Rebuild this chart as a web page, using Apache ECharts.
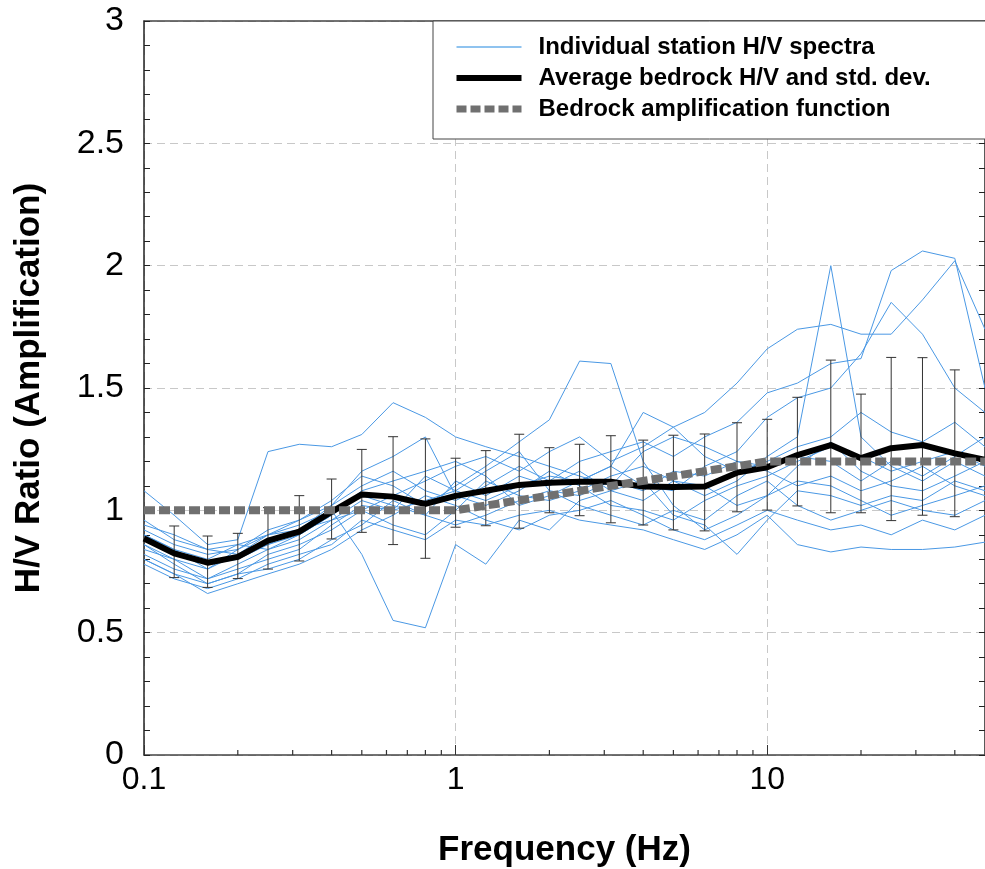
<!DOCTYPE html>
<html><head><meta charset="utf-8">
<script src="https://cdn.jsdelivr.net/npm/echarts@6/dist/echarts.min.js"></script>
<style>html,body{margin:0;padding:0;background:#fff}#c{width:985px;height:869px}</style>
</head><body><div id="c"></div>
<script>
const freqs = [0.1,0.125,0.16,0.2,0.25,0.315,0.4,0.5,0.63,0.8,1,1.25,1.6,2,2.5,3.15,4,5,6.3,8,10,12.5,16,20,25,31.5,40,50];
const avgHV = [0.885,0.824,0.786,0.81,0.876,0.913,0.994,1.065,1.056,1.026,1.059,1.08,1.104,1.113,1.117,1.117,1.097,1.095,1.097,1.154,1.176,1.226,1.267,1.213,1.254,1.267,1.233,1.206];
const stdLow = [null,0.725,0.685,0.721,0.760,0.793,0.883,0.91,0.86,0.804,0.931,0.937,0.927,0.99,0.978,0.949,0.94,0.92,0.916,0.994,1.001,1.018,0.99,0.99,0.958,0.98,0.974,null];
const stdHigh = [null,0.936,0.895,0.906,1.011,1.06,1.128,1.249,1.301,1.292,1.213,1.244,1.311,1.256,1.27,1.305,1.287,1.307,1.312,1.358,1.372,1.462,1.614,1.475,1.625,1.624,1.574,null];
const bedrockFreqs = [0.1, 1, 10, 50];
const bedrockAmp = [1.0, 1.0, 1.2, 1.2];
const station1 = [0.86,0.80,0.76,0.82,0.90,0.96,1.02,1.10,1.16,1.08,1.04,1.10,1.18,1.12,1.20,1.24,1.28,1.22,1.30,1.36,1.48,1.52,1.60,1.62,1.98,2.06,2.03,1.50];
const station2 = [0.90,0.84,0.80,0.86,0.84,0.90,0.98,1.06,1.02,0.98,1.12,1.06,1.14,1.10,1.16,1.08,1.04,1.12,1.06,1.12,1.22,1.30,2.00,1.30,1.18,1.12,1.20,1.14];
const station3 = [0.80,0.74,0.70,0.74,0.82,0.86,0.92,1.00,1.06,1.12,1.18,1.22,1.16,1.24,1.30,1.20,1.26,1.34,1.40,1.52,1.66,1.74,1.76,1.72,1.72,1.86,2.02,1.74];
const station4 = [0.84,0.80,0.72,0.76,0.80,0.84,0.94,1.02,1.00,1.04,1.08,1.04,1.10,1.14,1.12,1.18,1.10,1.08,1.18,1.24,1.38,1.46,1.50,1.64,1.85,1.72,1.50,1.40];
const station5 = [0.78,0.72,0.68,0.72,0.78,0.82,0.86,0.96,0.92,0.88,0.96,0.94,0.98,1.00,0.96,0.94,0.92,0.88,0.84,0.90,0.98,0.86,0.83,0.85,0.84,0.84,0.85,0.87];
const station6 = [0.96,0.88,0.84,0.86,0.90,0.94,1.00,0.82,0.55,0.52,0.86,0.78,0.96,0.92,1.04,1.08,1.12,0.98,0.94,0.82,0.96,1.08,1.06,1.02,1.06,1.04,1.12,1.08];
const station7 = [0.92,0.86,0.82,0.84,0.92,0.96,1.04,1.14,1.10,1.02,1.10,1.18,1.28,1.37,1.61,1.60,1.20,1.02,0.92,0.98,1.06,1.18,1.28,1.16,1.10,1.08,1.14,1.20];
const station8 = [1.08,0.98,0.86,0.88,1.24,1.27,1.26,1.31,1.44,1.38,1.30,1.26,1.22,1.18,1.14,1.10,1.24,1.30,1.26,1.20,1.16,1.10,1.14,1.08,1.12,1.18,1.10,1.06];
const station9 = [0.88,0.82,0.78,0.80,0.86,0.92,1.02,1.16,1.22,1.30,1.06,1.02,1.08,1.16,1.10,1.02,1.00,0.96,1.04,1.10,1.14,1.20,1.26,1.22,1.16,1.20,1.24,1.18];
const station10 = [0.82,0.76,0.72,0.78,0.84,0.88,0.96,1.00,0.94,0.90,1.00,1.12,1.06,1.04,1.08,1.14,1.18,1.12,1.10,1.02,1.06,1.12,1.10,1.04,0.98,1.02,1.06,1.10];
const station11 = [0.94,0.90,0.84,0.82,0.86,0.90,0.98,1.08,1.12,1.16,1.20,1.14,1.02,1.06,1.12,1.18,1.40,1.34,1.22,1.16,1.20,1.26,1.30,1.40,1.32,1.28,1.36,1.26];
const station12 = [0.86,0.78,0.70,0.74,0.76,0.80,0.88,0.94,1.04,0.98,0.94,0.98,1.04,1.08,1.02,0.98,0.94,1.00,0.96,1.06,1.12,1.02,0.96,1.00,1.04,1.00,0.98,1.04];
const station13 = [0.90,0.84,0.76,0.84,0.90,0.92,0.96,1.04,1.00,1.14,1.08,1.16,1.24,1.08,1.06,1.12,1.08,1.16,1.14,1.20,1.18,1.22,1.20,1.12,1.20,1.14,1.22,1.30];
const station14 = [0.80,0.74,0.66,0.70,0.74,0.78,0.84,0.92,0.98,1.06,1.02,0.96,0.92,0.98,1.00,1.04,0.98,0.92,0.88,0.94,1.00,0.96,0.92,0.94,0.90,0.96,0.92,0.98];
const stations = [station1,station2,station3,station4,station5,station6,station7,station8,station9,station10,station11,station12,station13,station14];
const xMinorTicks = [0.2,0.3,0.4,0.5,0.6,0.7,0.8,0.9,2,3,4,5,6,7,8,9,20,30,40];
const xAxisName = 'Frequency (Hz)';
const yAxisName = 'H/V Ratio (Amplification)';
const nameStation = 'Individual station H/V spectra';
const nameAvg = 'Average bedrock H/V and std. dev.';
const nameBed = 'Bedrock amplification function';

const FONT = '"Liberation Sans", Arial, Helvetica, sans-serif';
const chart = echarts.init(document.getElementById('c'));
const series = [];
stations.forEach(s => {
  series.push({
    name: nameStation, type: 'line', symbol: 'none', silent: true, z: 1,
    data: freqs.map((f, i) => [f, s[i]]),
    lineStyle: { width: 1, color: '#4a98e4' }, itemStyle: { color: '#4a98e4' }
  });
});
series.push({
  name: nameAvg, type: 'line', symbol: 'none', silent: true, z: 4,
  data: freqs.map((f, i) => [f, avgHV[i]]),
  lineStyle: { width: 6, color: '#000', join: 'round' }, itemStyle: { color: '#000' }
});
series.push({
  name: nameAvg, type: 'custom', z: 3, silent: true,
  encode: { x: 0, y: [1, 2] },
  data: freqs.map((f, i) => [f, stdLow[i], stdHigh[i]]).filter(d => d[1] != null),
  renderItem: function (params, api) {
    const x = api.value(0);
    const lo = api.coord([x, api.value(1)]);
    const hi = api.coord([x, api.value(2)]);
    const w = 5, st = { stroke: '#333', lineWidth: 1 };
    return { type: 'group', children: [
      { type: 'line', shape: { x1: lo[0], y1: lo[1], x2: hi[0], y2: hi[1] }, style: st },
      { type: 'line', shape: { x1: lo[0] - w, y1: lo[1], x2: lo[0] + w, y2: lo[1] }, style: st },
      { type: 'line', shape: { x1: hi[0] - w, y1: hi[1], x2: hi[0] + w, y2: hi[1] }, style: st }
    ]};
  }
});
series.push({
  name: nameBed, type: 'line', symbol: 'none', silent: true, z: 5,
  data: bedrockFreqs.map((f, i) => [f, bedrockAmp[i]]),
  lineStyle: { width: 8, color: '#707070', type: [11, 4], cap: 'butt' }, itemStyle: { color: '#707070' }
});
series.push({
  type: 'custom', silent: true, z: 6,
  data: xMinorTicks.map(f => [f, 0]),
  renderItem: function (params, api) {
    const p = api.coord([api.value(0), 0]);
    return { type: 'line', shape: { x1: p[0], y1: p[1], x2: p[0], y2: p[1] - 5 }, style: { stroke: '#333', lineWidth: 1.2 } };
  }
});

const noSym = { color: 'rgba(0,0,0,0)', borderColor: 'rgba(0,0,0,0)', borderWidth: 0, opacity: 0 };
const gridLine = { show: true, lineStyle: { color: '#c8c8c8', type: [8, 5], width: 1 } };
chart.setOption({
  animation: false,
  backgroundColor: '#fff',
  grid: { left: 144, right: 0, top: 21, bottom: 114, containLabel: false, outerBoundsMode: 'none' },
  legend: {
    orient: 'vertical', left: 433, top: 21,
    padding: [14, 60, 18, 20],
    itemWidth: 65, itemHeight: 14, itemGap: 7,
    borderColor: '#444', borderWidth: 1, backgroundColor: '#fff',
    selectedMode: false,
    textStyle: { fontFamily: FONT, fontWeight: 'bold', fontSize: 24, lineHeight: 24, color: '#000', padding: [0, 0, 0, 12] },
    data: [
      { name: nameStation, itemStyle: noSym, lineStyle: { width: 2, color: '#8fc3ef' } },
      { name: nameAvg, itemStyle: noSym, lineStyle: { width: 6, color: '#000' } },
      { name: nameBed, itemStyle: noSym, lineStyle: { width: 7, color: '#707070', type: [10, 4] } }
    ]
  },
  xAxis: [{
    type: 'log', logBase: 10, min: 0.1, max: 50, position: 'bottom',
    name: xAxisName, nameLocation: 'middle', nameGap: 78,
    nameTextStyle: { fontFamily: FONT, fontWeight: 'bold', fontSize: 35, color: '#000' },
    axisLine: { show: true, onZero: false, lineStyle: { color: '#444', width: 1.5 } },
    axisTick: { show: true, inside: true, length: 10, lineStyle: { color: '#333' } },
    axisLabel: { show: true, showMaxLabel: false, margin: 9, fontFamily: FONT, fontSize: 32, color: '#000',
      formatter: v => String(v) },
    splitLine: gridLine
  }, {
    type: 'log', logBase: 10, min: 0.1, max: 50, position: 'top',
    axisLine: { show: true, onZero: false, lineStyle: { color: '#444', width: 1.5 } },
    axisTick: { show: false }, axisLabel: { show: false }, splitLine: { show: false }
  }],
  yAxis: [{
    type: 'value', min: 0, max: 3, interval: 0.5, position: 'left',
    name: yAxisName, nameLocation: 'middle', nameGap: 97, nameRotate: 90,
    nameTextStyle: { fontFamily: FONT, fontWeight: 'bold', fontSize: 35, color: '#000' },
    axisLine: { show: true, onZero: false, lineStyle: { color: '#222', width: 1.5 } },
    axisTick: { show: true, inside: true, length: 6, lineStyle: { color: '#222' } },
    minorTick: { show: true, splitNumber: 5, length: 6, lineStyle: { color: '#222' } },
    axisLabel: { margin: 20, fontFamily: FONT, fontSize: 34, color: '#000' },
    splitLine: gridLine
  }, {
    type: 'value', min: 0, max: 3, interval: 0.5, position: 'right',
    axisLine: { show: true, onZero: false, lineStyle: { color: '#222', width: 1.5 } },
    axisTick: { show: true, inside: true, length: 6, lineStyle: { color: '#222' } },
    minorTick: { show: true, splitNumber: 5, length: 6, lineStyle: { color: '#222' } },
    axisLabel: { show: false }, splitLine: { show: false }
  }],
  series: series
});
</script></body></html>
